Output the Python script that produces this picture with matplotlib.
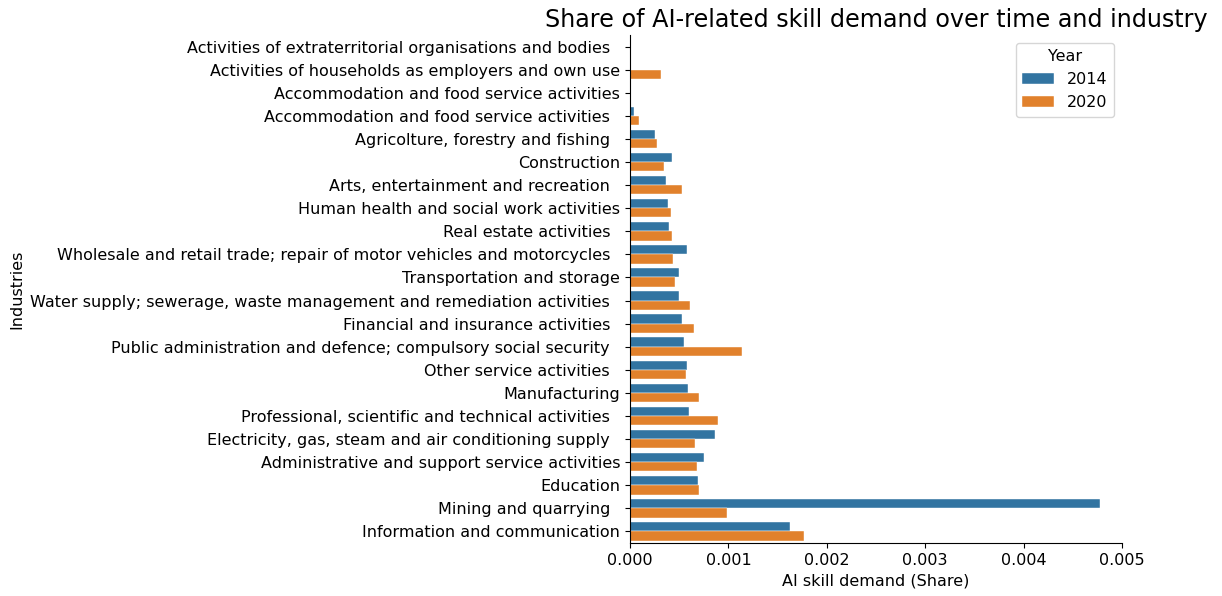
import numpy as np
import matplotlib
matplotlib.use("Agg")
import matplotlib.pyplot as plt

industries = [
  "Activities of extraterritorial organisations and bodies  ",
  "Activities of households as employers and own use",
  "Accommodation and food service activities",
  "Accommodation and food service activities  ",
  "Agricolture, forestry and fishing  ",
  "Construction",
  "Arts, entertainment and recreation  ",
  "Human health and social work activities",
  "Real estate activities  ",
  "Wholesale and retail trade; repair of motor vehicles and motorcycles  ",
  "Transportation and storage",
  "Water supply; sewerage, waste management and remediation activities  ",
  "Financial and insurance activities  ",
  "Public administration and defence; compulsory social security  ",
  "Other service activities  ",
  "Manufacturing",
  "Professional, scientific and technical activities  ",
  "Electricity, gas, steam and air conditioning supply  ",
  "Administrative and support service activities",
  "Education",
  "Mining and quarrying  ",
  "Information and communication",
]

share_2014 = [0.0, 0.0, 0.0, 0.000044, 0.000257, 0.000424, 0.000366, 0.00039,
              0.0004, 0.000583, 0.000501, 0.000501, 0.000525, 0.000549,
              0.000576, 0.000589, 0.0006, 0.000867, 0.000752, 0.000691,
              0.00478, 0.00163]
share_2020 = [0.0, 0.000315, 0.0, 0.000095, 0.000274, 0.000342, 0.000528, 0.000413,
              0.000427, 0.000437, 0.00046, 0.000607, 0.000647, 0.001135,
              0.000566, 0.000698, 0.000891, 0.000664, 0.000684, 0.000698,
              0.000983, 0.00177]

years = ["2014", "2020"]
colors = ["#3274a1", "#e1812c"]
fs = 11.5

fig = plt.figure(figsize=(12.22, 5.96), dpi=100)
ax = fig.add_axes([630/1222, 53/596, 492/1222, 508/596])

y = np.arange(len(industries))
h = 0.4
for i, (vals, yr) in enumerate(zip([share_2014, share_2020], years)):
  ax.barh(y - h/2 + i*h, vals, height=h, color=colors[i], label=yr,
          edgecolor="white", linewidth=0.3)

ax.set_yticks(y)
ax.set_yticklabels(industries, fontsize=fs)
ax.set_ylim(len(industries) - 0.5, -0.5)
ax.set_xlim(0, 0.005)
ax.set_xticks([0, 0.001, 0.002, 0.003, 0.004, 0.005])
ax.set_xticklabels(["0.000", "0.001", "0.002", "0.003", "0.004", "0.005"], fontsize=fs)
ax.set_xlabel("AI skill demand (Share)", fontsize=fs)
ax.set_ylabel("Industries", fontsize=fs)
ax.set_title("Share of AI-related skill demand over time and industry", fontsize=17.2)
ax.spines["top"].set_visible(False)
ax.spines["right"].set_visible(False)

leg = ax.legend(title="Year", loc="upper right", fontsize=fs, title_fontsize=fs)

fig.savefig("out.png", dpi=100)
